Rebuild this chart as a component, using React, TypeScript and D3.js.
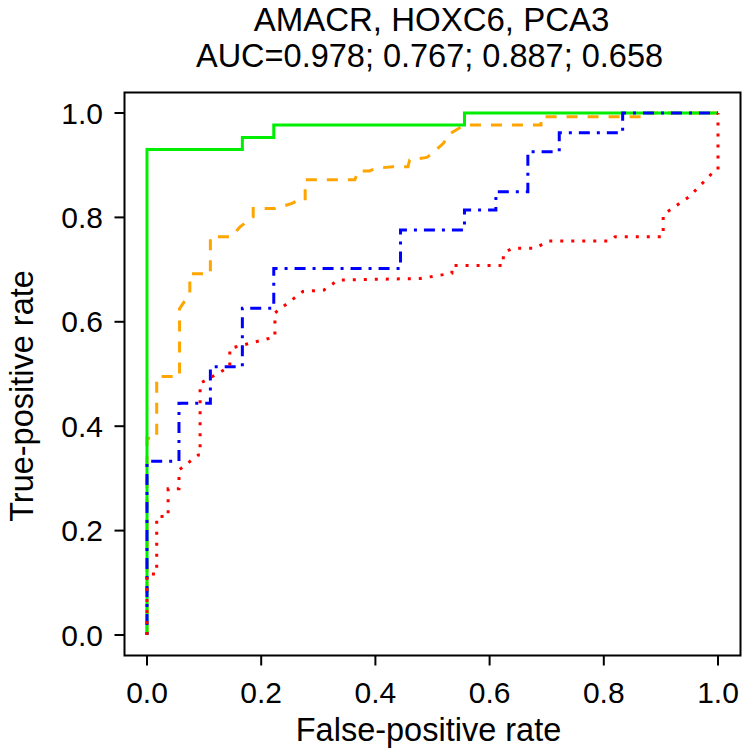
import React from "react";
import * as d3 from "d3";

// ---- data ----
const titleLines = ["AMACR, HOXC6, PCA3", "AUC=0.978; 0.767; 0.887; 0.658"];
const xLabel = "False-positive rate";
const yLabel = "True-positive rate";
const ticks = [0, 0.2, 0.4, 0.6, 0.8, 1.0];

const greenFpr = [0, 0, 0.167, 0.167, 0.222, 0.222, 0.556, 0.556, 1];
const greenTpr = [0, 0.93, 0.93, 0.953, 0.953, 0.977, 0.977, 1, 1];

const blueFpr = [0, 0, 0.056, 0.056, 0.111, 0.111, 0.167, 0.167, 0.222, 0.222, 0.444, 0.444, 0.556, 0.556, 0.611, 0.611, 0.667, 0.667, 0.722, 0.722, 0.833, 0.833, 1];
const blueTpr = [0, 0.333, 0.333, 0.444, 0.444, 0.514, 0.514, 0.626, 0.626, 0.702, 0.702, 0.776, 0.776, 0.814, 0.814, 0.849, 0.849, 0.926, 0.926, 0.962, 0.962, 1, 1];

const orangeFpr = [0, 0, 0.017, 0.017, 0.057, 0.057, 0.075, 0.075, 0.111, 0.111, 0.148, 0.163, 0.186, 0.186, 0.224, 0.24, 0.254, 0.265, 0.277, 0.277, 0.364, 0.37, 0.39, 0.4, 0.43, 0.457, 0.46, 0.49, 0.5, 0.519, 0.53, 0.545, 0.556, 0.69, 0.69, 0.865, 0.865, 1];
const orangeTpr = [0, 0.377, 0.377, 0.495, 0.495, 0.625, 0.655, 0.692, 0.692, 0.763, 0.763, 0.782, 0.801, 0.817, 0.817, 0.822, 0.827, 0.833, 0.833, 0.872, 0.872, 0.889, 0.889, 0.894, 0.897, 0.897, 0.91, 0.915, 0.923, 0.942, 0.96, 0.97, 0.977, 0.977, 0.993, 0.993, 1, 1];

const redFpr = [0, 0, 0.017, 0.017, 0.037, 0.037, 0.056, 0.056, 0.09, 0.093, 0.093, 0.145, 0.145, 0.224, 0.224, 0.273, 0.31, 0.335, 0.478, 0.534, 0.534, 0.624, 0.624, 0.64, 0.68, 0.703, 0.811, 0.82, 0.904, 0.904, 0.95, 0.99, 1, 1];
const redTpr = [0, 0.117, 0.117, 0.227, 0.227, 0.28, 0.28, 0.316, 0.345, 0.345, 0.482, 0.514, 0.549, 0.571, 0.617, 0.658, 0.661, 0.68, 0.683, 0.693, 0.708, 0.708, 0.731, 0.741, 0.741, 0.755, 0.755, 0.763, 0.763, 0.805, 0.84, 0.885, 0.891, 1];

const series = [
  { name: "orange", fpr: orangeFpr, tpr: orangeTpr, color: "#FFA500", dash: "11,10" },
  { name: "green", fpr: greenFpr, tpr: greenTpr, color: "#00EE00", dash: "" },
  { name: "blue", fpr: blueFpr, tpr: blueTpr, color: "#0000FF", dash: "3,7,11,7" },
  { name: "red", fpr: redFpr, tpr: redTpr, color: "#FF0000", dash: "3,8" },
];

export default function App() {
  const W = 744, H = 751;
  const x = d3.scaleLinear().domain([0, 1]).range([147, 718]);
  const y = d3.scaleLinear().domain([0, 1]).range([635, 113]);
  const box = { l: 124.5, r: 740.5, t: 92.5, b: 655.5 };
  const font = "'Liberation Sans', Arial, Helvetica, sans-serif";
  const line = d3.line<[number, number]>().x((d) => x(d[0])).y((d) => y(d[1]));
  const cx = (box.l + box.r) / 2;
  const cy = (box.t + box.b) / 2;

  return (
    <svg width={W} height={H} style={{ position: "absolute", left: 0, top: 0, background: "#fff" }} fontFamily={font}>
      <rect x={0} y={0} width={W} height={H} fill="#fff" />
      {/* title */}
      <text x={cx - 1} y={30.5} textAnchor="middle" fontSize={33}>{titleLines[0]}</text>
      <text x={cx - 3} y={67} textAnchor="middle" fontSize={32.5}>{titleLines[1]}</text>

      {/* curves */}
      {series.map((s) => (
        <path
          key={s.name}
          d={line(s.fpr.map((v, i) => [v, s.tpr[i]] as [number, number])) || ""}
          fill="none"
          stroke={s.color}
          strokeWidth={3}
          strokeDasharray={s.dash || undefined}
        />
      ))}

      {/* box */}
      <rect x={box.l} y={box.t} width={box.r - box.l} height={box.b - box.t} fill="none" stroke="#000" strokeWidth={2} />

      {/* x axis */}
      {ticks.map((t) => (
        <g key={"x" + t}>
          <line x1={x(t)} x2={x(t)} y1={box.b} y2={box.b + 10} stroke="#000" strokeWidth={2} />
          <text x={x(t)} y={703} textAnchor="middle" fontSize={30}>{t.toFixed(1)}</text>
        </g>
      ))}
      <text x={cx - 4} y={741} textAnchor="middle" fontSize={32.5}>{xLabel}</text>

      {/* y axis */}
      {ticks.map((t) => (
        <g key={"y" + t}>
          <line x1={box.l} x2={box.l - 10} y1={y(t)} y2={y(t)} stroke="#000" strokeWidth={2} />
          <text x={103} y={y(t) + 10.5} textAnchor="end" fontSize={30}>{t.toFixed(1)}</text>
        </g>
      ))}
      <text transform={`translate(33,${cy + 22}) rotate(-90)`} textAnchor="middle" fontSize={32.5}>{yLabel}</text>
    </svg>
  );
}
